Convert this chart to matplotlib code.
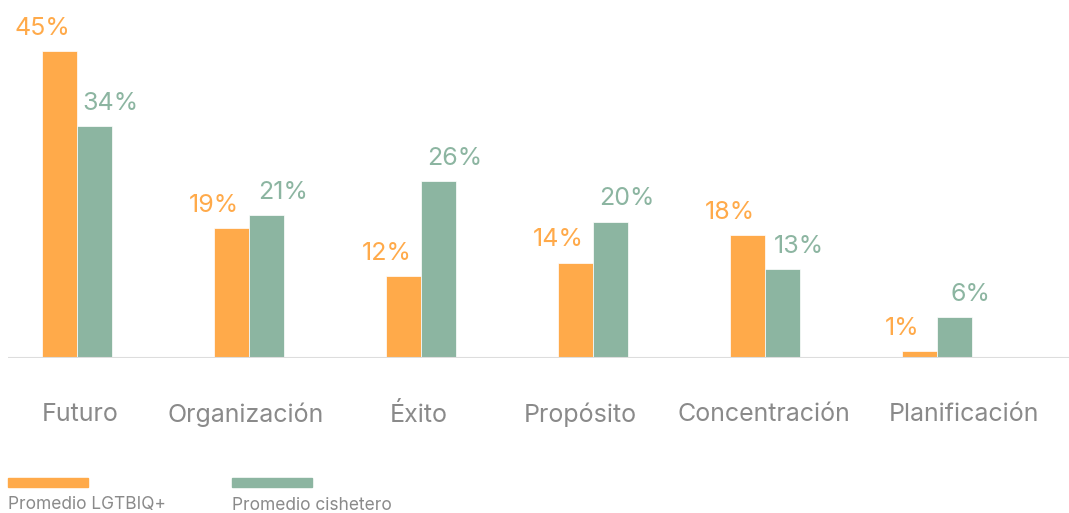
import matplotlib
matplotlib.use("Agg")
import matplotlib.pyplot as plt
import numpy as np
from matplotlib.patches import Rectangle

categories = ["Futuro", "Organización", "Éxito", "Propósito", "Concentración", "Planificación"]
lgtbiq = [45, 19, 12, 14, 18, 1]
cishetero = [34, 21, 26, 20, 13, 6]
series_names = ["Promedio LGTBIQ+", "Promedio cishetero"]

# small horizontal nudges of category labels (pixels), as in the original
label_nudge = [4, -3, -2, -12, -1, 27]

orange = "#FFAA4A"
green = "#8CB5A1"
gray = "#8A8A8A"

plt.rcParams["font.family"] = ["Inter", "DejaVu Sans"]
weight = "normal"

W, H = 1069, 513
fig = plt.figure(figsize=(W / 100, H / 100), dpi=100)
ax = fig.add_axes([8 / W, (H - 358) / H, 1 - 8 / W, 358 / H])

x = np.arange(len(categories))
bw = 35 / 172
b1 = ax.bar(x - bw / 2, lgtbiq, width=bw, color=orange, edgecolor="white", linewidth=0.5)
b2 = ax.bar(x + bw / 2, cishetero, width=bw, color=green, edgecolor="white", linewidth=0.5)

for rect, v in zip(b1, lgtbiq):
    ax.annotate(f"{v}%", (rect.get_x() + rect.get_width() / 2, v), xytext=(-12, 8),
                textcoords="offset points", ha="center", va="bottom",
                fontsize=18, color=orange, fontweight=weight)
for rect, v in zip(b2, cishetero):
    ax.annotate(f"{v}%", (rect.get_x() + rect.get_width() / 2, v), xytext=(12, 8),
                textcoords="offset points", ha="center", va="bottom",
                fontsize=18, color=green, fontweight=weight)

for i, c in enumerate(categories):
    ax.annotate(c, (i, -8.3), xytext=(label_nudge[i] * 0.72, 0), textcoords="offset points",
                ha="center", va="center", fontsize=18, color=gray,
                fontweight=weight, annotation_clip=False)

ax.set_xlim((8 - 76.5) / 172, (W - 76.5) / 172)
ax.set_ylim(0, 358 / 6.82)
ax.axhline(0, color="#DDDDDD", linewidth=1.5)
for s in ax.spines.values():
    s.set_visible(False)
ax.set_xticks([])
ax.set_yticks([])

# legend drawn by hand: colour strip above text
for lx, col, name in [(8, orange, series_names[0]), (232, green, series_names[1])]:
    fig.add_artist(Rectangle((lx / W, (H - 487) / H), 80 / W, 9 / H,
                             transform=fig.transFigure, color=col))
    fig.text(lx / W, (H - 505) / H, name, ha="left", va="center", fontsize=12.5,
             color=gray, fontweight=weight)

fig.savefig("out.png", dpi=100)
